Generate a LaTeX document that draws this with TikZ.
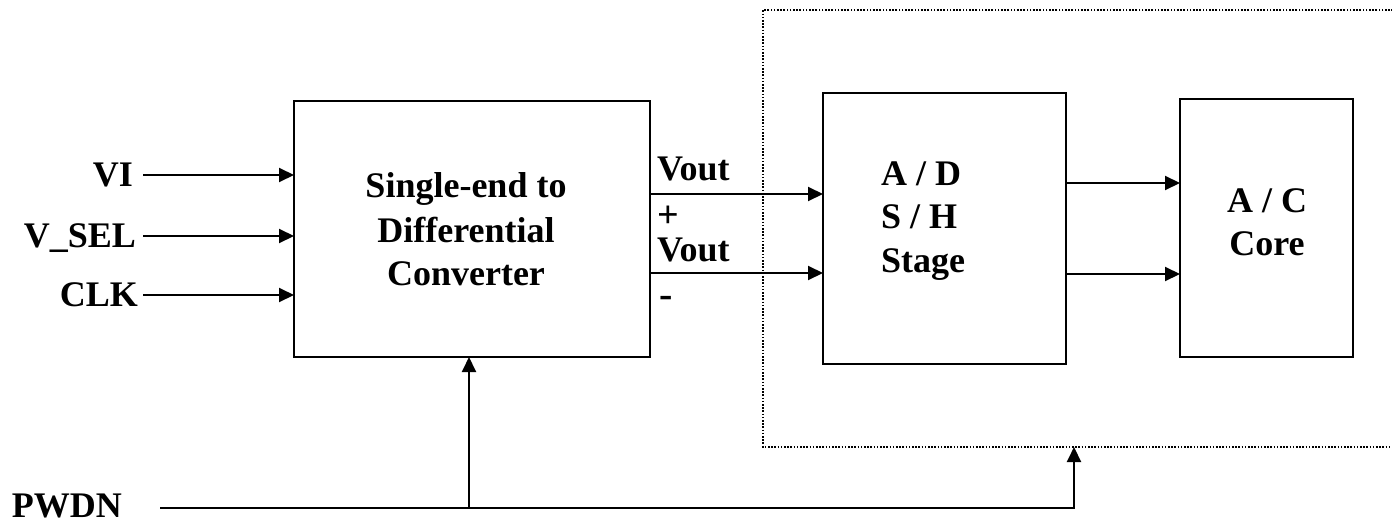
\documentclass[tikz,border=0pt]{standalone}
\usepackage{fontspec}
\setmainfont{Liberation Serif}
\usetikzlibrary{arrows.meta}
\begin{document}
\begin{tikzpicture}[x=1pt,y=-1pt,
  blk/.style={draw, line width=2.4pt, inner sep=0, outer sep=0, anchor=north west},
  lbl/.style={inner sep=0, outer sep=0, font=\fontsize{36}{43}\selectfont\bfseries},
  conn/.style={line width=2pt, -{Triangle[length=15pt,width=14pt]}},
  dotframe/.style={line width=1.6pt, dash pattern=on 1.6pt off 1.6pt}]
\useasboundingbox (0,0) rectangle (1392,522);

% blocks
\node[blk, minimum width=356pt, minimum height=256pt] (conv) at (294,101) {};
\node[blk, minimum width=243pt, minimum height=271pt] (sh) at (823,93) {};
\node[blk, minimum width=173pt, minimum height=258pt] (core) at (1180,99) {};

% dotted frame
\coordinate (ftr) at (1393,10);
\coordinate (ftl) at (763,10);
\coordinate (fbl) at (763,447);
\coordinate (fbr) at (1393,447);
\coordinate (fpin) at (1074,447);
\draw[dotframe] (ftr) -- (ftl) -- (fbl) -- (fbr);

% block texts
\node[lbl, anchor=base] (t1) at (466,197) {Single-end to};
\node[lbl, anchor=base] (t2) at (466,242) {Differential};
\node[lbl, anchor=base] (t3) at (466,285) {Converter};
\node[lbl, anchor=base west] (t4) at (881,185) {A / D};
\node[lbl, anchor=base west] (t5) at (881,228) {S / H};
\node[lbl, anchor=base west] (t6) at (881,272) {Stage};
\node[lbl, anchor=base] (t7) at (1267,212) {A / C};
\node[lbl, anchor=base] (t8) at (1267,255) {Core};

% inputs
\node[lbl, anchor=base east] (lvi) at (133,186) {VI};
\node[lbl, anchor=base east] (lvs) at (136,247) {V\_SEL};
\node[lbl, anchor=base east] (lclk) at (138,306) {CLK};
\coordinate (svi) at (143,175);
\coordinate (svs) at (143,236);
\coordinate (sclk) at (143,295);
\draw[conn] (svi) -- (svi -| conv.west);
\draw[conn] (svs) -- (svs -| conv.west);
\draw[conn] (sclk) -- (sclk -| conv.west);

% differential outputs
\node[lbl, anchor=base west] (lvo1) at (657,180) {Vout};
\node[lbl, anchor=base west, font=\fontsize{38}{43}\selectfont\bfseries] (lp) at (657,227) {+};
\node[lbl, anchor=base west] (lvo2) at (657,261) {Vout};
\node[lbl, anchor=base west, font=\fontsize{40}{43}\selectfont\bfseries] (lm) at (659,307) {-};
\coordinate (vp) at (650,194);
\coordinate (vm) at (650,273);
\draw[conn] (vp -| conv.east) -- (vp -| sh.west);
\draw[conn] (vm -| conv.east) -- (vm -| sh.west);

% S/H to core
\coordinate (o1) at (1066,183);
\coordinate (o2) at (1066,274);
\draw[conn] (o1 -| sh.east) -- (o1 -| core.west);
\draw[conn] (o2 -| sh.east) -- (o2 -| core.west);

% power down
\node[lbl, anchor=base west] (lpw) at (12,517) {PWDN};
\coordinate (pw) at (160,508);
\coordinate (pj) at (469,508);
\coordinate (pe) at (1074,508);
\draw[conn] (pw) -- (pe) -- (fpin);
\draw[conn] (pj) -- (pj |- conv.south);
\end{tikzpicture}
\end{document}
